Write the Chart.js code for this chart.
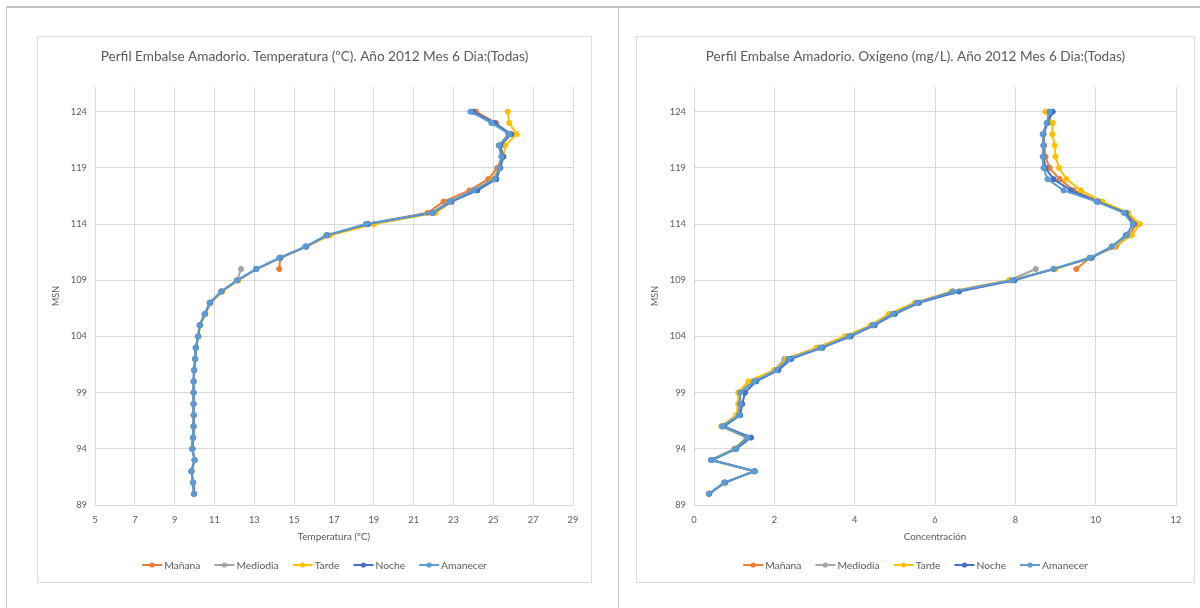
<!DOCTYPE html>
<html lang="es">
<head>
<meta charset="utf-8">
<title>Perfil Embalse Amadorio - Junio 2012</title>
<script src="https://cdn.jsdelivr.net/npm/chart.js@4/dist/chart.umd.min.js"></script>
<style>
  html, body { margin: 0; padding: 0; background: #fff; width: 1200px; height: 608px; overflow: hidden; }
  .marco { position: absolute; left: 6px; top: 6px; width: 1194px; height: 602px;
           border-top: 2px solid #c3c3c3; border-left: 1px solid #c3c3c3; box-sizing: border-box; }
  .divisor { position: absolute; left: 618px; top: 7px; width: 1px; height: 601px; background: #c3c3c3; }
  .panel { position: absolute; top: 37px; height: 545px; background: #fff; box-shadow: 0 0 0 1px #dcdcdc; }
  #panelTemp { left: 38px; width: 553px; }
  #panelOxi { left: 637px; width: 557px; }
  canvas { display: block; }
</style>
</head>
<body>
<div class="marco"></div>
<div class="divisor"></div>
<div class="panel" id="panelTemp"><canvas id="graficoTemp" width="553" height="545"></canvas></div>
<div class="panel" id="panelOxi"><canvas id="graficoOxi" width="557" height="545"></canvas></div>

<script>
// Cotas de medida (m s.n.m.), de superficie a fondo
const cotas = [124, 123, 122, 121, 120, 119, 118, 117, 116, 115, 114, 113, 112, 111, 110,
               109, 108, 107, 106, 105, 104, 103, 102, 101, 100, 99, 98, 97, 96, 95, 94, 93, 92, 91, 90];
const cotasSuperiores = [124, 123, 122, 121, 120, 119, 118, 117, 116, 115, 114, 113, 112, 111, 110];
const cotasInferiores = [110, 109, 108, 107, 106, 105, 104, 103, 102, 101, 100, 99, 98, 97, 96, 95, 94, 93, 92, 91, 90];

// Marcas del eje vertical
const ticksCota = [89, 94, 99, 104, 109, 114, 119, 124];

// Temperatura (ºC)
const tempManana   = [24.13, 25.13, 25.75, 25.3, 25.45, 25.2, 24.75, 23.8, 22.5, 21.7, 18.7, 16.7, 15.6, 14.3, 14.25];
const tempMediodia = [12.33, 12.15, 11.35, 10.77, 10.5, 10.26, 10.17, 10.06, 10.03, 9.98, 9.95, 9.95, 9.95, 9.95, 9.95,
                      9.92, 9.89, 10.0, 9.84, 9.92, 9.97];
const tempTarde    = [25.72, 25.8, 26.17, 25.6, 25.5, 25.3, 25.0, 24.1, 22.9, 22.1, 19.0, 16.8, 15.6, 14.3, 13.1,
                      12.2, 11.4, 10.8, 10.55, 10.28, 10.2, 10.07, 10.04, 9.98, 9.96, 9.95, 9.95, 9.95, 9.95, 9.92,
                      9.88, 10.0, 9.84, 9.92, 9.97];
const tempNoche    = [24.0, 25.05, 25.9, 25.35, 25.5, 25.35, 25.15, 24.2, 22.9, 21.95, 18.7, 16.65, 15.6, 14.3, 13.1,
                      12.15, 11.35, 10.78, 10.52, 10.27, 10.18, 10.07, 10.03, 9.98, 9.96, 9.95, 9.95, 9.96, 9.95, 9.93,
                      9.9, 10.0, 9.85, 9.93, 9.97];
const tempAmanecer = [23.85, 24.9, 25.8, 25.27, 25.4, 25.3, 25.05, 24.0, 22.8, 21.9, 18.6, 16.6, 15.55, 14.25, 13.08,
                      12.12, 11.33, 10.75, 10.5, 10.25, 10.17, 10.05, 10.03, 9.97, 9.95, 9.95, 9.95, 9.95, 9.95, 9.92,
                      9.88, 10.0, 9.83, 9.92, 9.97];

// Oxígeno disuelto (mg/L)
const oxiManana   = [8.85, 8.8, 8.7, 8.72, 8.75, 8.85, 9.1, 9.45, 10.1, 10.8, 11.0, 10.85, 10.5, 9.85, 9.52];
const oxiMediodia = [8.51, 7.85, 6.45, 5.5, 4.9, 4.45, 3.8, 3.1, 2.25, 2.0, 1.45, 1.12, 1.12, 1.1, 0.7,
                     1.33, 1.02, 0.42, 1.52, 0.75, 0.37];
const oxiTarde    = [8.75, 8.93, 8.92, 8.98, 9.0, 9.09, 9.27, 9.63, 10.17, 10.8, 11.1, 10.9, 10.45, 9.85, 9.0,
                     7.85, 6.4, 5.5, 4.85, 4.4, 3.75, 3.05, 2.3, 2.0, 1.35, 1.1, 1.1, 1.05, 0.68, 1.3,
                     1.0, 0.42, 1.5, 0.75, 0.37];
const oxiNoche    = [8.93, 8.8, 8.7, 8.7, 8.7, 8.75, 8.95, 9.38, 10.05, 10.75, 10.95, 10.75, 10.4, 9.9, 8.95,
                     7.98, 6.6, 5.6, 5.0, 4.5, 3.9, 3.2, 2.42, 2.1, 1.55, 1.27, 1.2, 1.15, 0.75, 1.42,
                     1.05, 0.45, 1.5, 0.78, 0.38];
const oxiAmanecer = [8.85, 8.78, 8.68, 8.7, 8.68, 8.7, 8.8, 9.2, 10.02, 10.7, 10.92, 10.78, 10.4, 9.85, 8.95,
                     7.92, 6.45, 5.55, 4.95, 4.45, 3.85, 3.15, 2.35, 2.05, 1.5, 1.15, 1.15, 1.12, 0.7, 1.33,
                     1.02, 0.42, 1.52, 0.75, 0.37];

const nombresSeries = ['Mañana', 'Mediodia', 'Tarde', 'Noche', 'Amanecer'];
const coloresSeries = ['#ED7D31', '#A5A5A5', '#FFC000', '#4472C4', '#5B9BD5'];

const FUENTE = 'Lato, "Open Sans", sans-serif';
const GRIS_TEXTO = '#595959';
const GRIS_REJILLA = '#d9d9d9';

function puntos(valores, niveles) {
  return valores.map((v, i) => ({ x: v, y: niveles[i] }));
}

function serie(i, valores, niveles) {
  return {
    label: nombresSeries[i],
    data: puntos(valores, niveles),
    borderColor: coloresSeries[i],
    backgroundColor: coloresSeries[i],
    borderWidth: 2,
    pointRadius: 2.6,
    pointBorderWidth: 1,
    pointHoverRadius: 3,
    tension: 0,
    fill: false,
    showLine: true,
    // la última serie queda encima
    order: nombresSeries.length - 1 - i
  };
}

// Título centrado en el lienzo completo
const tituloCentrado = {
  id: 'tituloCentrado',
  afterDraw(chart, args, opts) {
    const ctx = chart.ctx;
    ctx.save();
    ctx.font = `${opts.size}px ${FUENTE}`;
    ctx.fillStyle = GRIS_TEXTO;
    ctx.textAlign = 'center';
    ctx.textBaseline = 'middle';
    ctx.fillText(opts.text, chart.width / 2, opts.y);
    ctx.restore();
  }
};

// Leyenda inferior: trazo con marcador y texto
const leyendaLineas = {
  id: 'leyendaLineas',
  afterDraw(chart, args, opts) {
    const ctx = chart.ctx;
    ctx.save();
    ctx.font = `${opts.size}px ${FUENTE}`;
    const items = chart.data.datasets.map(d => ({ t: d.label, c: d.borderColor, w: ctx.measureText(d.label).width }));
    const largo = 20, sepTexto = 2, sepItem = 14;
    const total = items.reduce((s, it) => s + largo + sepTexto + it.w, 0) + sepItem * (items.length - 1);
    let x = (chart.width - total) / 2;
    const y = opts.y;
    items.forEach(it => {
      ctx.strokeStyle = it.c;
      ctx.lineWidth = 2;
      ctx.beginPath();
      ctx.moveTo(x, y);
      ctx.lineTo(x + largo, y);
      ctx.stroke();
      ctx.fillStyle = it.c;
      ctx.beginPath();
      ctx.arc(x + largo / 2, y, 2.6, 0, Math.PI * 2);
      ctx.fill();
      ctx.fillStyle = GRIS_TEXTO;
      ctx.textBaseline = 'middle';
      ctx.textAlign = 'left';
      ctx.fillText(it.t, x + largo + sepTexto, y + 0.5);
      x += largo + sepTexto + it.w + sepItem;
    });
    ctx.restore();
  }
};

function crearGrafico(idCanvas, titulo, tituloX, minX, maxX, series) {
  return new Chart(document.getElementById(idCanvas), {
    type: 'scatter',
    data: { datasets: series },
    plugins: [tituloCentrado, leyendaLineas],
    options: {
      responsive: false,
      animation: false,
      events: [],
      layout: { padding: { left: 0, right: 18, top: 50, bottom: 33 } },
      plugins: {
        legend: { display: false },
        tooltip: { enabled: false },
        title: { display: false },
        tituloCentrado: { text: titulo, y: 20, size: 13.6 },
        leyendaLineas: { y: 528, size: 10.3 }
      },
      scales: {
        x: {
          type: 'linear',
          min: minX,
          max: maxX,
          afterFit: s => { s.height = 44; },
          ticks: { stepSize: 2, color: GRIS_TEXTO, font: { family: FUENTE, size: 9.3 }, padding: 9 },
          grid: { color: GRIS_REJILLA, drawTicks: false, lineWidth: 1 },
          border: { color: GRIS_REJILLA },
          title: {
            display: true, text: tituloX, color: GRIS_TEXTO,
            font: { family: FUENTE, size: 9.8 }, padding: { top: 0, bottom: 6 }
          }
        },
        y: {
          type: 'linear',
          min: 89,
          max: 126.2,
          afterFit: s => { s.width = 57; },
          afterBuildTicks: s => { s.ticks = ticksCota.map(v => ({ value: v })); },
          ticks: { color: GRIS_TEXTO, font: { family: FUENTE, size: 9.3 }, padding: 8 },
          grid: { color: GRIS_REJILLA, drawTicks: false, lineWidth: 1 },
          border: { color: GRIS_REJILLA },
          title: {
            display: true, text: 'MSN', color: GRIS_TEXTO,
            font: { family: FUENTE, size: 9 }, padding: { top: 13, bottom: 0 }
          }
        }
      }
    }
  });
}

crearGrafico('graficoTemp',
  'Perfil Embalse Amadorio. Temperatura (ºC). Año 2012 Mes 6 Dia:(Todas)',
  'Temperatura (ºC)', 5, 29, [
    serie(0, tempManana, cotasSuperiores),
    serie(1, tempMediodia, cotasInferiores),
    serie(2, tempTarde, cotas),
    serie(3, tempNoche, cotas),
    serie(4, tempAmanecer, cotas)
  ]);

crearGrafico('graficoOxi',
  'Perfil Embalse Amadorio. Oxígeno (mg/L). Año 2012 Mes 6 Dia:(Todas)',
  'Concentración', 0, 12, [
    serie(0, oxiManana, cotasSuperiores),
    serie(1, oxiMediodia, cotasInferiores),
    serie(2, oxiTarde, cotas),
    serie(3, oxiNoche, cotas),
    serie(4, oxiAmanecer, cotas)
  ]);
</script>
</body>
</html>
